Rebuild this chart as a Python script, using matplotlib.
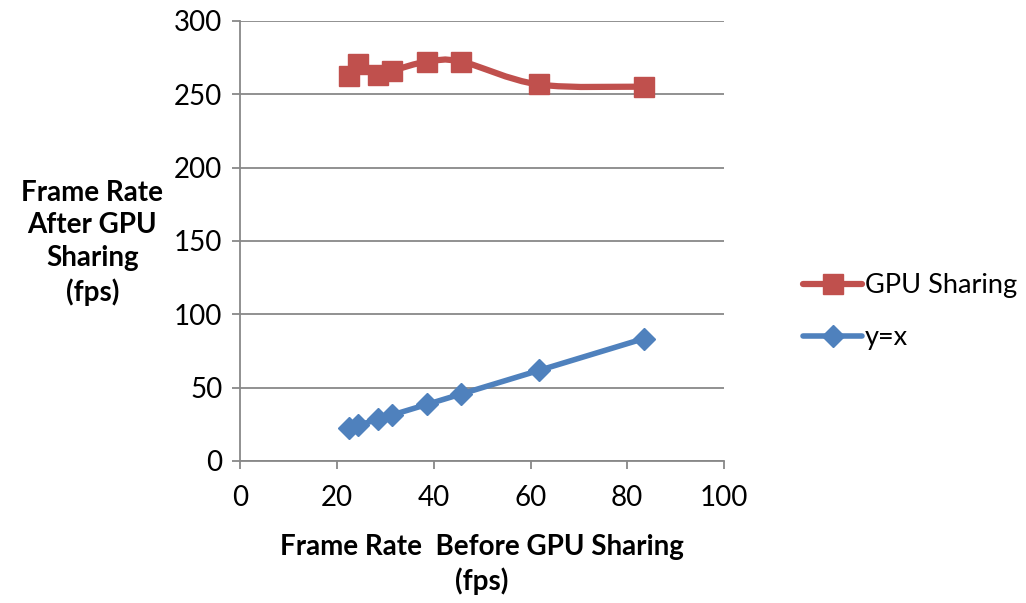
import numpy as np
import matplotlib.pyplot as plt
from matplotlib.path import Path
from matplotlib.patches import PathPatch
from matplotlib.lines import Line2D

plt.rcParams['font.family'] = ['Lato', 'DejaVu Sans']

# Frame rates before sharing (x) and after sharing (y)
fps_before = [22.5, 24.3, 28.4, 31.4, 38.6, 45.7, 61.7, 83.5]
fps_sharing = [262.5, 270.7, 263.2, 266.1, 272.3, 272.3, 256.7, 255.2]
fps_identity = [22.5, 24.3, 28.4, 31.4, 38.6, 45.7, 61.7, 83.5]

x_ticks = [0, 20, 40, 60, 80, 100]
y_ticks = [0, 50, 100, 150, 200, 250, 300]

red = '#C0504D'
blue = '#4F81BD'
grey = '#888888'


def smooth_path(xs, ys):
    # cubic Bezier segments through every point (spreadsheet-style smoothing)
    pts = np.column_stack([xs, ys]).astype(float)
    n = len(pts)
    verts = [pts[0]]
    codes = [Path.MOVETO]
    for i in range(n - 1):
        p_prev = pts[i - 1] if i > 0 else pts[i]
        p_next2 = pts[i + 2] if i + 2 < n else pts[i + 1]
        c1 = pts[i] + (pts[i + 1] - p_prev) / 6
        c2 = pts[i + 1] - (p_next2 - pts[i]) / 6
        verts += [c1, c2, pts[i + 1]]
        codes += [Path.CURVE4] * 3
    return Path(verts, codes)


fig = plt.figure(figsize=(10.26, 6.03), dpi=100)
ax = fig.add_axes([0.2344, 0.2355, 0.4711, 0.7297])

ax.set_xlim(0, 100)
ax.set_ylim(0, 300)
ax.set_xticks(x_ticks)
ax.set_yticks(y_ticks)
ax.yaxis.grid(True, color=grey, linewidth=1.3)
ax.set_axisbelow(True)
for side in ['top', 'right']:
    ax.spines[side].set_visible(False)
for side in ['left', 'bottom']:
    ax.spines[side].set_color(grey)
    ax.spines[side].set_linewidth(1.3)
ax.tick_params(axis='both', colors=grey, length=6, width=1.3, labelsize=20,
               labelcolor='black')
ax.tick_params(axis='x', pad=11)
ax.tick_params(axis='y', pad=7)

# GPU sharing series: smoothed line, square markers
ax.add_patch(PathPatch(smooth_path(fps_before, fps_sharing), facecolor='none',
                       edgecolor=red, linewidth=4.5, capstyle='round',
                       joinstyle='round', zorder=3))
ax.plot(fps_before, fps_sharing, linestyle='none', marker='s', markersize=15,
        color=red, markeredgecolor=red, zorder=4)

# reference y=x series
ax.plot(fps_before, fps_identity, color=blue, linewidth=4, marker='D',
        markersize=11, markeredgecolor=blue, solid_capstyle='round', zorder=4)

ax.set_xlabel('Frame Rate  Before GPU Sharing\n(fps)', fontsize=20,
              fontweight='bold', labelpad=17, linespacing=1.3)
fig.text(0.09, 0.597, 'Frame Rate\nAfter GPU\nSharing\n(fps)', fontsize=20,
         fontweight='bold', ha='center', va='center', linespacing=1.33)

handles = [
    Line2D([], [], color=red, linewidth=4.5, marker='s', markersize=15,
           solid_capstyle='round'),
    Line2D([], [], color=blue, linewidth=4, marker='D', markersize=11,
           solid_capstyle='round'),
]
fig.legend(handles, ['GPU Sharing', 'y=x'], loc='upper left',
           bbox_to_anchor=(0.772, 0.565), frameon=False, fontsize=19.5,
           handlelength=2.2, handletextpad=0.1, labelspacing=1.0,
           borderaxespad=0)

fig.savefig('out.png', dpi=100)
